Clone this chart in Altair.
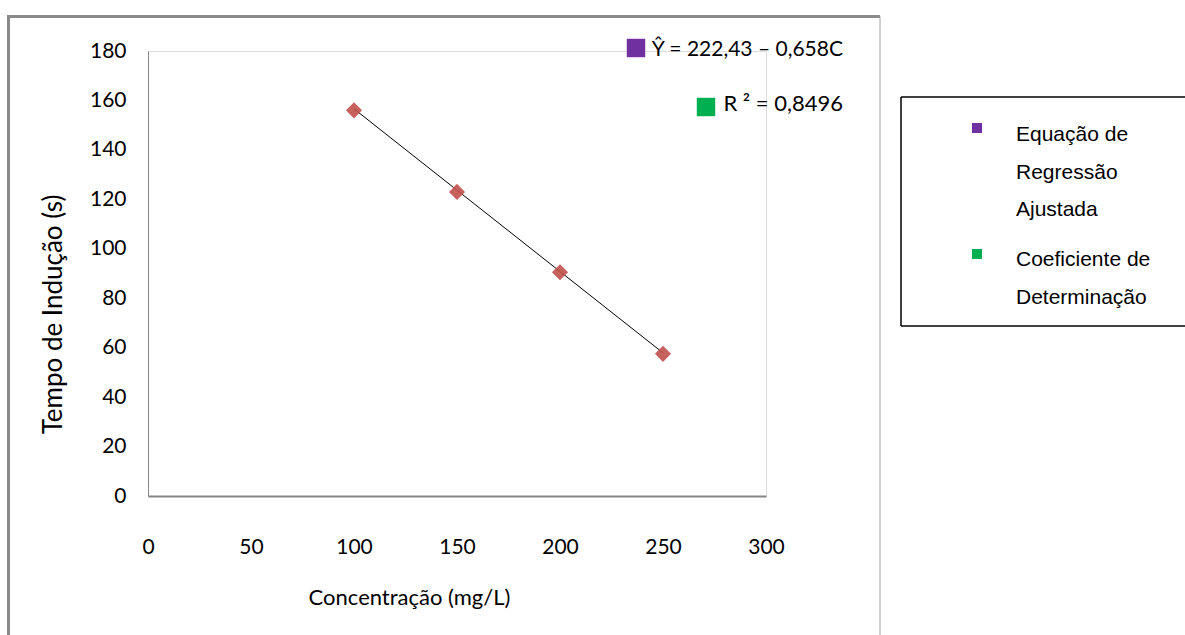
import altair as alt
import pandas as pd

# --- data ---
conc = [100, 150, 200, 250]
tempo = [156, 123, 90.5, 57.5]
line_conc = [100, 250]
line_tempo = [156.6, 57.9]
x_ticks = [0, 50, 100, 150, 200, 250, 300]
y_ticks = [0, 20, 40, 60, 80, 100, 120, 140, 160, 180]
eq_text = "Ŷ = 222,43 – 0,658C"
r2_text = "R ² = 0,8496"
legend_cats = ["Equação de Regressão Ajustada", "Coeficiente de Determinação"]
legend_lines = [["Equação de", "Regressão", "Ajustada"], ["Coeficiente de", "Determinação"]]
legend_colors = ["#7030A0", "#00B050"]

NARROW = "Lato, Liberation Sans, sans-serif"
SANS = "Liberation Sans, Arial, sans-serif"

pts = pd.DataFrame({"c": conc, "t": tempo})
ln = pd.DataFrame({"c": line_conc, "t": line_tempo})

xs = alt.Scale(domain=[0, 300], nice=False)
ys = alt.Scale(domain=[0, 180], nice=False)

x_axis = alt.Axis(values=x_ticks, title="Concentração (mg/L)", grid=False, ticks=False,
                  labelPadding=40, labelFontSize=21, labelFont=NARROW, labelColor="#000",
                  labelFlush=False,
                  domainColor="#868686", domainWidth=2,
                  titleFont=NARROW, titleFontSize=22, titleFontWeight="normal", titleColor="#000",
                  titleX=261, titleY=101, titleBaseline="middle")
y_axis = alt.Axis(values=y_ticks, title="Tempo de Indução (s)", grid=False, ticks=False,
                  labelPadding=22, labelFontSize=21, labelFont=NARROW, labelColor="#000",
                  labelFlush=False,
                  domainColor="#868686", domainWidth=1,
                  titleFont=NARROW, titleFontSize=26, titleFontWeight="normal", titleColor="#000",
                  titleX=-95, titleY=263, titleBaseline="middle", titleAngle=270)

line = alt.Chart(ln).mark_line(color="#000", strokeWidth=1).encode(
    x=alt.X("c:Q", scale=xs, axis=x_axis),
    y=alt.Y("t:Q", scale=ys, axis=y_axis),
)
points = alt.Chart(pts).mark_point(shape="diamond", filled=True, size=260,
                                   color="#C0504D", opacity=0.9).encode(
    x=alt.X("c:Q", scale=xs), y=alt.Y("t:Q", scale=ys))

one = pd.DataFrame({"k": [0]})

def rule(x, x2, y, y2, color, w):
    return alt.Chart(one).mark_rule(color=color, strokeWidth=w).encode(
        x=alt.value(x), x2=alt.value(x2), y=alt.value(y), y2=alt.value(y2))

frame = [
    rule(-139.5, -139.5, -34.5, 600, "#8a8a8a", 3),
    rule(-141, 732, -34.5, -34.5, "#8a8a8a", 3),
    rule(732, 732, -34.5, 600, "#a0a0a0", 1),
]

# legend box
box = [
    rule(753, 753, 46, 275, "#000", 1.5),
    rule(753, 1045, 46, 46, "#000", 1.5),
    rule(753, 1045, 275, 275, "#000", 1.5),
]

def square(x, y, color, size):
    return alt.Chart(one).mark_square(color=color, size=size, opacity=1).encode(
        x=alt.value(x), y=alt.value(y))

def text(x, y, t, font, fs, align="left", lh=None):
    kw = dict(font=font, fontSize=fs, align=align, baseline="alphabetic", color="#000")
    if lh is not None:
        kw["lineHeight"] = lh
    return alt.Chart(one).mark_text(text=t, **kw).encode(x=alt.value(x), y=alt.value(y))

annots = [
    square(488, -3, legend_colors[0], 340),
    square(558, 56, legend_colors[1], 340),
    text(695, 5, eq_text, NARROW, 21, align="right"),
    text(695, 60, r2_text, NARROW, 22, align="right"),
    square(829, 77, legend_colors[0], 100),
    square(829, 203, legend_colors[1], 100),
    text(868, 90, legend_lines[0], SANS, 21, lh=37.5),
    text(868, 215, legend_lines[1], SANS, 21, lh=37.5),
]

chart = alt.layer(*frame, *box, line, points, *annots).properties(
    width=618, height=445,
    autosize=alt.AutoSizeParams(type="none"),
    padding={"left": 148, "top": 51, "right": 419, "bottom": 139},
).configure_view(stroke=None).configure(background="white")

chart.save("out.html", embed_options={"renderer": "svg", "actions": False})
